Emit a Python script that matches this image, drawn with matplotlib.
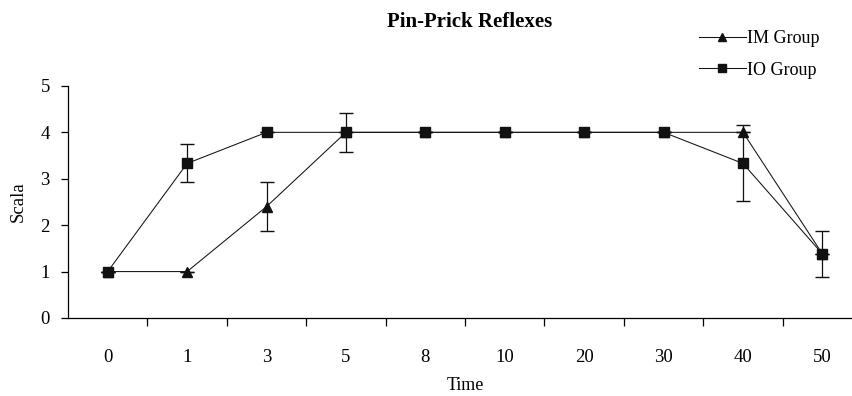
import matplotlib.pyplot as plt

plt.rcParams['font.family'] = ['Liberation Serif', 'DejaVu Serif']

times = ["0", "1", "3", "5", "8", "10", "20", "30", "40", "50"]
im_vals = [1, 1, 2.4, 4, 4, 4, 4, 4, 4, 1.38]
im_err = [0, 0, 0.52, 0, 0, 0, 0, 0, 0, 0]
io_vals = [1, 3.33, 4, 4, 4, 4, 4, 4, 3.33, 1.38]
io_err = [0, 0.41, 0, 0.42, 0, 0, 0, 0, 0.82, 0.5]

fig = plt.figure(figsize=(8.53, 3.96), dpi=100)
ax = fig.add_axes([0.0797, 0.197, 0.931, 0.586])

x = list(range(len(times)))
ax.errorbar(x, im_vals, yerr=im_err, color="#111111", marker="^", markersize=7,
            lw=0.75, elinewidth=0.9, capsize=5, label="IM Group")
ax.errorbar(x, io_vals, yerr=io_err, color="#111111", marker="s", markersize=7,
            lw=0.75, elinewidth=0.9, capsize=5, label="IO Group")

ax.set_xlim(-0.5, 9.5)
ax.set_ylim(0, 5)
ax.set_yticks([0, 1, 2, 3, 4, 5])
ax.set_xticks(x)
ax.set_xticklabels(times)
ax.set_xticks([i + 0.5 for i in range(0, 10)], minor=True)
ax.tick_params(axis="x", which="major", length=0, pad=22, labelsize=13.5)
ax.tick_params(axis="x", which="minor", length=6, width=0.9, direction="out")
ax.tick_params(axis="y", length=5, width=0.9, labelsize=13.5, pad=8)
for s in ["top", "right"]:
    ax.spines[s].set_visible(False)
for s in ["left", "bottom"]:
    ax.spines[s].set_linewidth(0.9)

ax.set_ylabel("Scala", fontsize=13.5, labelpad=10)
ax.set_xlabel("Time", fontsize=13, labelpad=8)
fig.text(0.551, 0.945, "Pin-Prick Reflexes", ha="center", va="center",
         fontsize=15, fontweight="bold")

h, l = ax.get_legend_handles_labels()
h = [hh[0] for hh in h]
fig.legend(h, l, loc="upper left", bbox_to_anchor=(0.8, 0.965), frameon=False,
           fontsize=13, handlelength=2.6, handletextpad=0.1, labelspacing=0.8,
           markerscale=0.8)

fig.savefig("out.png", dpi=100)
